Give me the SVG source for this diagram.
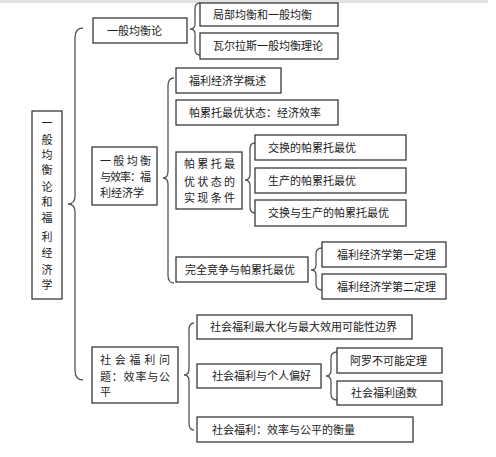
<svg xmlns="http://www.w3.org/2000/svg" width="496" height="457" viewBox="0 0 496 457">
<style>
.b{fill:#fff;stroke:#3a3a3a;stroke-width:1.3}
.t{font-family:"Noto Sans CJK SC","Noto Sans",sans-serif;font-size:11px;fill:#222}
.br{fill:none;stroke:#555;stroke-width:1.3}
</style>
<rect x="0" y="0" width="488" height="3" fill="#e2e2e2"/>
<g id="connectors">
<path class="br" d="M83,28 Q75,28 75,38 L75,196 Q75,204 68,204 Q75,204 75,212 L75,370 Q75,380 83,380"/>
<path class="br" d="M200,3 Q195,3 195,9 L195,24 Q195,29 190,29 Q195,29 195,34 L195,49 Q195,55 200,55"/>
<path class="br" d="M174,78 Q168,78 168,86 L168,171 Q168,178 163,178 Q168,178 168,185 L168,275 Q168,283 174,283"/>
<path class="br" d="M255,143 Q250,143 250,149 L250,174 Q250,180 245,180 Q250,180 250,186 L250,207 Q250,213 255,213"/>
<path class="br" d="M322,248 Q316,248 316,254 L316,265 Q316,270 311,270 Q316,270 316,275 L316,284 Q316,290 322,290"/>
<path class="br" d="M194,323 Q189,323 189,330 L189,369 Q189,375 184,375 Q189,375 189,381 L189,423 Q189,430 194,430"/>
<path class="br" d="M337,352 Q331,352 331,358 L331,370 Q331,376 326,376 Q331,376 331,382 L331,394 Q331,400 337,400"/>
</g>
<g id="root"><rect class="b" x="32" y="111" width="30" height="188"/>
<g class="t" text-anchor="middle">
<text x="47" y="127">一</text><text x="47" y="144">般</text><text x="47" y="159">均</text><text x="47" y="174">衡</text><text x="47" y="191">论</text><text x="47" y="206">和</text><text x="47" y="222">福</text><text x="47" y="241">利</text><text x="47" y="257">经</text><text x="47" y="274">济</text><text x="47" y="289">学</text>
</g></g>
<g id="n1"><rect class="b" x="93" y="18" width="94" height="25"/><text class="t" x="107" y="35">一般均衡论</text></g>
<g id="n1a"><rect class="b" x="200" y="3" width="138" height="23"/><text class="t" x="213" y="19">局部均衡和一般均衡</text></g>
<g id="n1b"><rect class="b" x="200" y="33" width="138" height="26"/><text class="t" x="213" y="50">瓦尔拉斯一般均衡理论</text></g>
<g id="n2"><rect class="b" x="92" y="147" width="65" height="58"/>
<text class="t" x="100" y="165" textLength="51" lengthAdjust="spacing">一般均衡</text>
<text class="t" x="100" y="181" textLength="51" lengthAdjust="spacing">与效率：福</text>
<text class="t" x="100" y="197" textLength="44" lengthAdjust="spacing">利经济学</text></g>
<g id="n2a"><rect class="b" x="176" y="68" width="105" height="25"/><text class="t" x="189" y="85">福利经济学概述</text></g>
<g id="n2b"><rect class="b" x="176" y="100" width="162" height="25"/><text class="t" x="189" y="117">帕累托最优状态：经济效率</text></g>
<g id="n2c"><rect class="b" x="176" y="152" width="66" height="57"/>
<text class="t" x="184" y="168" textLength="51" lengthAdjust="spacing">帕累托最</text>
<text class="t" x="184" y="186" textLength="51" lengthAdjust="spacing">优状态的</text>
<text class="t" x="184" y="202" textLength="51" lengthAdjust="spacing">实现条件</text></g>
<g id="n2c1"><rect class="b" x="255" y="135" width="151" height="25"/><text class="t" x="268" y="152">交换的帕累托最优</text></g>
<g id="n2c2"><rect class="b" x="255" y="168" width="151" height="25"/><text class="t" x="268" y="185">生产的帕累托最优</text></g>
<g id="n2c3"><rect class="b" x="255" y="200" width="151" height="26"/><text class="t" x="268" y="217">交换与生产的帕累托最优</text></g>
<g id="n2d"><rect class="b" x="176" y="257" width="132" height="25"/><text class="t" x="185" y="274">完全竞争与帕累托最优</text></g>
<g id="n2d1"><rect class="b" x="322" y="242" width="124" height="25"/><text class="t" x="337" y="259">福利经济学第一定理</text></g>
<g id="n2d2"><rect class="b" x="322" y="274" width="124" height="25"/><text class="t" x="337" y="291">福利经济学第二定理</text></g>
<g id="n3"><rect class="b" x="92" y="347" width="86" height="56"/>
<text class="t" x="100" y="364" textLength="70" lengthAdjust="spacing">社会福利问</text>
<text class="t" x="100" y="381" textLength="70" lengthAdjust="spacing">题：效率与公</text>
<text class="t" x="100" y="396">平</text></g>
<g id="n3a"><rect class="b" x="197" y="315" width="215" height="24"/><text class="t" x="210" y="331">社会福利最大化与最大效用可能性边界</text></g>
<g id="n3b"><rect class="b" x="197" y="364" width="124" height="24"/><text class="t" x="212" y="380">社会福利与个人偏好</text></g>
<g id="n3b1"><rect class="b" x="337" y="348" width="105" height="25"/><text class="t" x="350" y="365">阿罗不可能定理</text></g>
<g id="n3b2"><rect class="b" x="337" y="381" width="105" height="24"/><text class="t" x="351" y="397">社会福利函数</text></g>
<g id="n3c"><rect class="b" x="197" y="417" width="216" height="25"/><text class="t" x="212" y="434">社会福利：效率与公平的衡量</text></g>
</svg>
